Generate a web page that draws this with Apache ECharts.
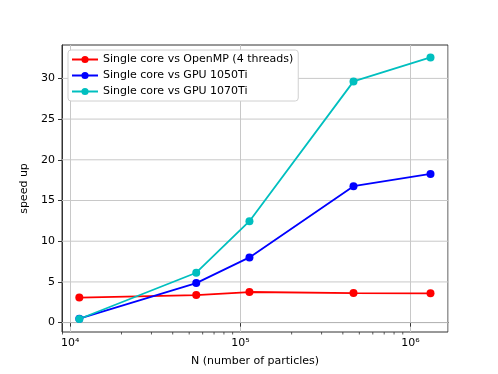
<!DOCTYPE html>
<html>
<head>
<meta charset="utf-8">
<title>speed up</title>
<script src="https://cdn.jsdelivr.net/npm/echarts@6/dist/echarts.min.js"></script>
<style>
html, body { margin: 0; padding: 0; background: #fff; }
#chart { width: 498px; height: 374px; }
</style>
</head>
<body>
<div id="chart"></div>
<script type="text/javascript">
// 数据
var particles = [11300, 55000, 113000, 462000, 1310000];
var openmp = [3.08, 3.38, 3.76, 3.63, 3.6];
var gpu1050 = [0.49, 4.86, 8.01, 16.76, 18.27];
var gpu1070 = [0.45, 6.13, 12.46, 29.63, 32.58];
var seriesNames = ['Single core vs OpenMP (4 threads)', 'Single core vs GPU 1050Ti', 'Single core vs GPU 1070Ti'];
var yTicks = [0, 5, 10, 15, 20, 25, 30];
var minorTicks = [9000, 20000, 30000, 40000, 50000, 60000, 70000, 80000, 90000,
    200000, 300000, 400000, 500000, 600000, 700000, 800000, 900000];

var xMin = 8940, xMax = 1660000;
var yMin = -1.15, yMax = 34.1;
var font = 'DejaVu Sans';
var sup = {'4': '\u2074', '5': '\u2075', '6': '\u2076'};

function pairs(ys) {
    return particles.map(function (x, i) { return [x, ys[i]]; });
}

function lineSeries(name, ys, color) {
    return {
        name: name,
        type: 'line',
        data: pairs(ys),
        symbol: 'circle',
        symbolSize: 8,
        color: color,
        lineStyle: {width: 1.8, color: color},
        itemStyle: {color: color},
        z: 3
    };
}

var chart = echarts.init(document.getElementById('chart'));
chart.setOption({
    animation: false,
    textStyle: {fontFamily: font},
    grid: {
        left: 62, right: 50, top: 45, bottom: 42,
        show: true, borderColor: '#333', borderWidth: 1, backgroundColor: 'transparent'
    },
    legend: {
        orient: 'vertical',
        left: 68, top: 50,
        itemWidth: 26, itemHeight: 9, itemGap: 5,
        padding: [4, 5, 4, 3],
        backgroundColor: '#fff',
        borderColor: '#d0d0d0', borderWidth: 1, borderRadius: 3,
        textStyle: {fontFamily: font, fontSize: 11, color: '#000'},
        data: seriesNames
    },
    xAxis: {
        type: 'log',
        logBase: 10,
        min: xMin, max: xMax,
        name: 'N (number of particles)',
        nameLocation: 'middle',
        nameGap: 24,
        nameTextStyle: {fontFamily: font, fontSize: 11, color: '#000'},
        axisLine: {lineStyle: {color: '#333'}},
        axisTick: {length: 4, lineStyle: {color: '#333'}},
        axisLabel: {
            fontFamily: font, fontSize: 11, color: '#000', margin: 6,
            showMinLabel: false, showMaxLabel: false,
            formatter: function (v) {
                var e = Math.round(Math.log10(v));
                if (Math.abs(Math.log10(v) - e) > 1e-6) return '';
                return '10' + (sup[String(e)] || e);
            }
        },
        splitLine: {show: true, lineStyle: {color: '#c8c8c8', width: 1}}
    },
    yAxis: {
        type: 'value',
        min: yMin, max: yMax,
        name: 'speed up',
        nameLocation: 'middle',
        nameGap: 27,
        nameTextStyle: {fontFamily: font, fontSize: 11, color: '#000'},
        axisLine: {show: true, lineStyle: {color: '#333'}},
        axisTick: {show: true, length: 4, customValues: yTicks, lineStyle: {color: '#333'}},
        axisLabel: {fontFamily: font, fontSize: 11, color: '#000', margin: 7, customValues: yTicks},
        splitLine: {show: false}
    },
    series: [
        lineSeries(seriesNames[0], openmp, '#ff0000'),
        lineSeries(seriesNames[1], gpu1050, '#0000ff'),
        lineSeries(seriesNames[2], gpu1070, '#00bfbf'),
        {
            // 水平网格线
            type: 'custom',
            silent: true,
            z: 1,
            data: yTicks.map(function (v) { return [v]; }),
            encode: {y: 0},
            renderItem: function (params, api) {
                var a = api.coord([xMin, api.value(0)]);
                var b = api.coord([xMax, api.value(0)]);
                return {
                    type: 'line',
                    shape: {x1: a[0], y1: a[1], x2: b[0], y2: b[1]},
                    style: {stroke: '#c8c8c8', lineWidth: 1}
                };
            }
        },
        {
            // 对数轴次刻度
            type: 'custom',
            silent: true,
            z: 1,
            clip: false,
            data: minorTicks.map(function (v) { return [v]; }),
            encode: {x: 0},
            renderItem: function (params, api) {
                var p = api.coord([api.value(0), yMin]);
                return {
                    type: 'line',
                    shape: {x1: p[0], y1: p[1], x2: p[0], y2: p[1] + 2.5},
                    style: {stroke: '#333', lineWidth: 0.8}
                };
            }
        }
    ]
});
</script>
</body>
</html>
